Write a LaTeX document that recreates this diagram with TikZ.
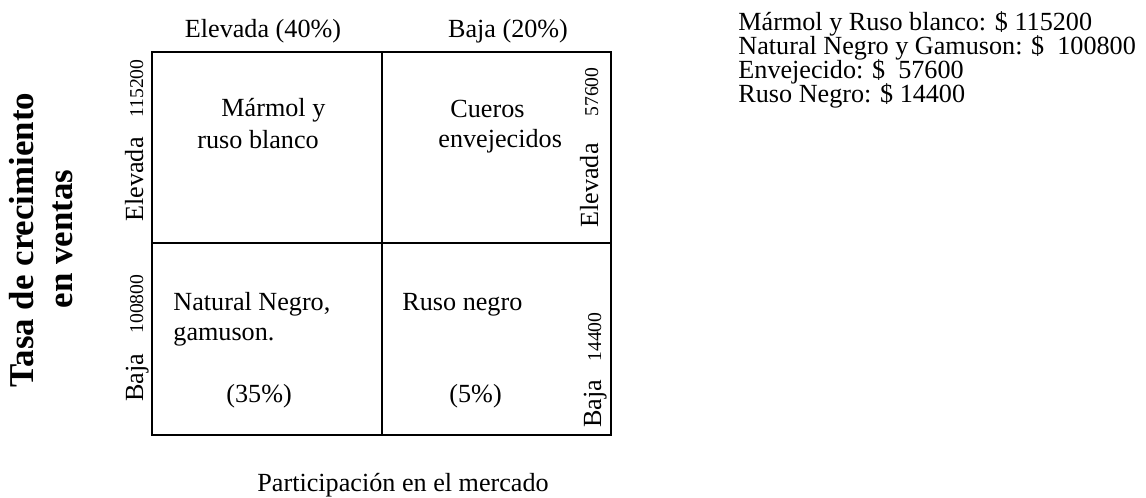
\documentclass[tikz,border=0pt]{standalone}
\usepackage{fontspec}
\setmainfont{Liberation Serif}
\tikzset{
  grid/.style={line width=0.9pt, draw=black},
  txt/.style={inner sep=0pt, anchor=base west, font=\fontsize{12}{14}\selectfont},
  num/.style={inner sep=0pt, anchor=base west, rotate=90, font=\fontsize{9}{11}\selectfont},
  vlab/.style={inner sep=0pt, anchor=base west, rotate=90, font=\fontsize{12}{14}\selectfont},
  ttl/.style={inner sep=0pt, anchor=base, rotate=90, font=\fontsize{16}{19}\selectfont\bfseries},
  hdr/.style={inner sep=0pt, anchor=base, font=\fontsize{12}{14}\selectfont}
}
\begin{document}
\begin{tikzpicture}[x=0.4587pt, y=-0.4587pt]
\useasboundingbox (0,0) rectangle (1146,497);
% grid
\coordinate (tl) at (152,52);
\coordinate (br) at (611,435);
\coordinate (mt) at (382,52);
\coordinate (mb) at (382,435);
\coordinate (ml) at (152,243);
\coordinate (mr) at (611,243);
\draw[grid] (tl) rectangle (br);
\draw[grid] (mt) -- (mb);
\draw[grid] (ml) -- (mr);
% headers
\node[hdr] (h1) at (263,37) {Elevada (40\%)};
\node[hdr] (h2) at (508,37) {Baja (20\%)};
% title
\node[ttl] (t1) at (33,240) {Tasa de crecimiento};
\node[ttl] (t2) at (72,239) {en ventas};
% left labels
\node[vlab] (le) at (143,222) {Elevada};
\node[num] (ln1) at (143,118) {115200};
\node[vlab] (lb) at (143,402) {Baja};
\node[num] (ln2) at (143,334) {100800};
% right labels
\node[vlab] (re) at (598,228) {Elevada};
\node[num] (rn1) at (598,117) {57600};
\node[vlab] (rb) at (601,428) {Baja};
\node[num] (rn2) at (601,362) {14400};
% cells
\node[txt] (c1a) at (221,116) {Mármol y};
\node[txt] (c1b) at (197,148) {ruso blanco};
\node[txt] (c2a) at (450,117) {Cueros};
\node[txt] (c2b) at (438,147) {envejecidos};
\node[txt] (c3a) at (173,310) {Natural Negro,};
\node[txt] (c3b) at (173,340) {gamuson.};
\node[txt] (c3c) at (226,402) {(35\%)};
\node[txt] (c4a) at (402,310) {Ruso negro};
\node[txt] (c4b) at (449,402) {(5\%)};
% bottom
\node[txt] (bx) at (257,491) {Participación en el mercado};
% right list
\node[txt] (r1) at (738,30) {Mármol y Ruso blanco: \$ 115200};
\node[txt] (r2) at (738,54) {Natural Negro y Gamuson: \$\ \ 100800};
\node[txt] (r3) at (738,78) {Envejecido: \$\ \ 57600};
\node[txt] (r4) at (738,102) {Ruso Negro: \$ 14400};
\end{tikzpicture}
\end{document}
